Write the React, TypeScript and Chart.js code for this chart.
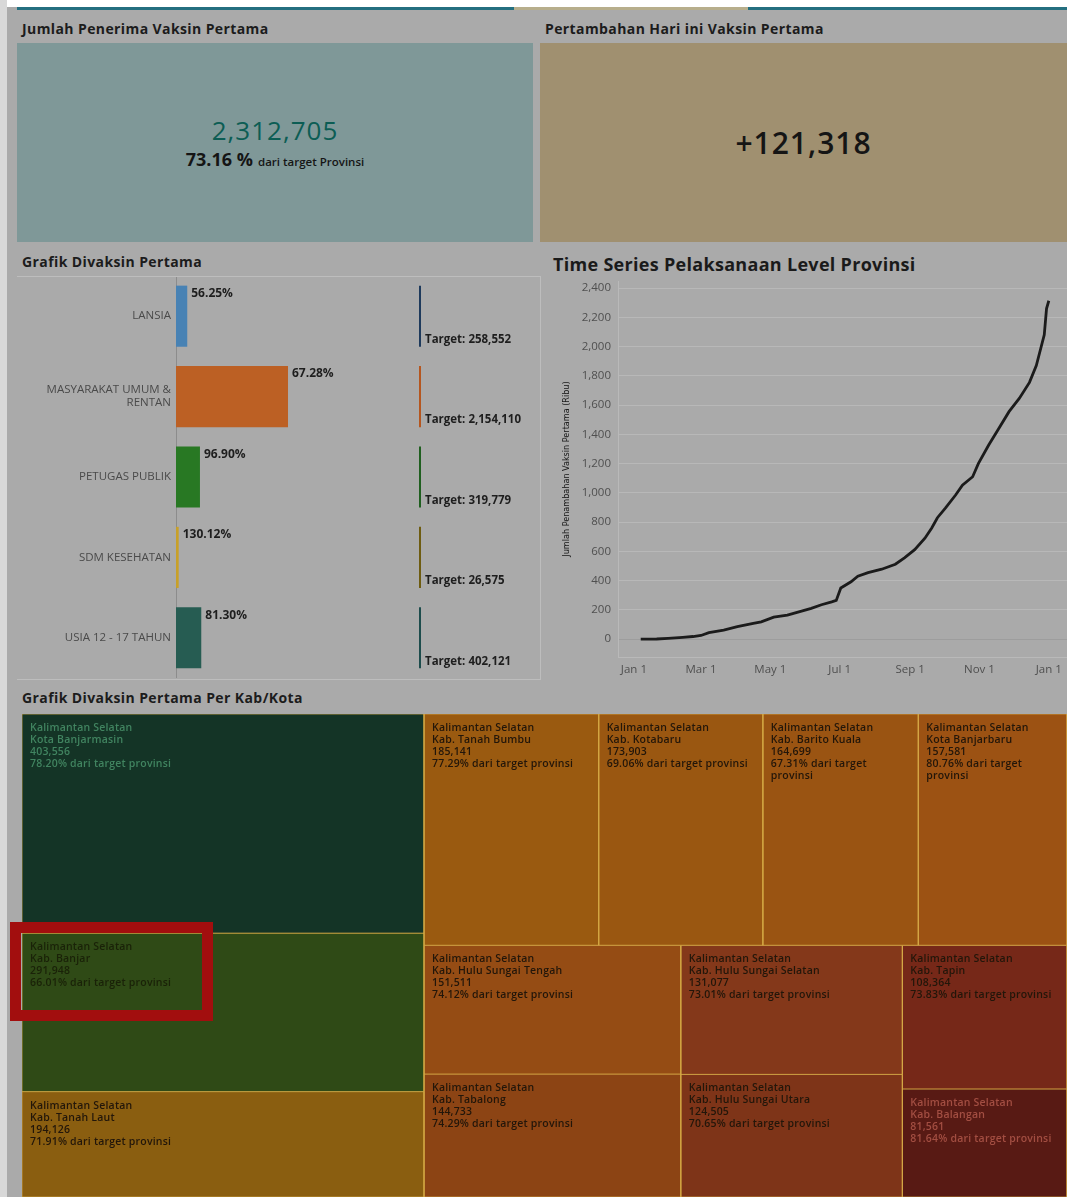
import React, { useEffect, useRef } from 'react';
import { Chart, registerables } from 'chart.js';

Chart.register(...registerables);

const FONT = '"Open Sans", "Noto Sans", sans-serif';
const NARROW = '"Liberation Sans Narrow", "DejaVu Sans Condensed", sans-serif';

// ---------- KPI ----------
const kpiTotalTitle = 'Jumlah Penerima Vaksin Pertama';
const kpiTotalValue = 2312705;
const kpiTotalPct = 73.16;
const kpiTodayTitle = 'Pertambahan Hari ini Vaksin Pertama';
const kpiTodayValue = 121318;

// ---------- Bar chart (Grafik Divaksin Pertama) ----------
const barTitle = 'Grafik Divaksin Pertama';
const barCategories = [['LANSIA'], ['MASYARAKAT UMUM &', 'RENTAN'], ['PETUGAS PUBLIK'], ['SDM KESEHATAN'], ['USIA 12 - 17 TAHUN']];
const barAchieved = [145436, 1449286, 309866, 34580, 326924];
const barPercents = [56.25, 67.28, 96.9, 130.12, 81.3];
const barTargets = [258552, 2154110, 319779, 26575, 402121];
const barColors = ['#4882b4', '#bc6024', '#287823', '#c8a028', '#265c52'];
const barTargetColors = ['#1e3a5c', '#b5561f', '#1f5f1f', '#6e5c10', '#1d4c4c'];

// ---------- Time series ----------
const tsTitle = 'Time Series Pelaksanaan Level Provinsi';
const tsYTitle = 'Jumlah Penambahan Vaksin Pertama (Ribu)';
const tsDays = [6, 20, 30, 43, 52, 59, 66, 79, 91, 105, 112, 123, 135, 142, 156, 165, 174, 178, 182, 191, 197, 206, 218, 230, 238, 247, 256, 262, 267, 274, 283, 289, 298, 303, 312, 321, 330, 339, 348, 354, 358, 361, 363, 365];
const tsValues = [0, 1, 5, 12, 18, 25, 45, 62, 85, 108, 118, 150, 165, 180, 210, 235, 255, 265, 350, 392, 430, 455, 478, 512, 556, 612, 690, 760, 830, 895, 985, 1052, 1110, 1200, 1325, 1440, 1555, 1645, 1755, 1870, 1990, 2080, 2260, 2313];
const tsTickDays = [0, 59, 120, 181, 243, 304, 365];
const tsTickLabels = ['Jan 1', 'Mar 1', 'May 1', 'Jul 1', 'Sep 1', 'Nov 1', 'Jan 1'];
const tsYTicks = [0, 200, 400, 600, 800, 1000, 1200, 1400, 1600, 1800, 2000, 2200, 2400];

// ---------- Treemap ----------
const tmTitle = 'Grafik Divaksin Pertama Per Kab/Kota';
const tmProvince = 'Kalimantan Selatan';
const tmRegions = ['Kota Banjarmasin', 'Kab. Banjar', 'Kab. Tanah Laut', 'Kab. Tanah Bumbu', 'Kab. Kotabaru', 'Kab. Barito Kuala', 'Kota Banjarbaru', 'Kab. Hulu Sungai Tengah', 'Kab. Tabalong', 'Kab. Hulu Sungai Selatan', 'Kab. Hulu Sungai Utara', 'Kab. Tapin', 'Kab. Balangan'];
const tmValues = [403556, 291948, 194126, 185141, 173903, 164699, 157581, 151511, 144733, 131077, 124505, 108364, 81561];
const tmPercents = [78.2, 66.01, 71.91, 77.29, 69.06, 67.31, 80.76, 74.12, 74.29, 73.01, 70.65, 73.83, 81.64];
const tmStripCounts = [3, 4, 2, 2, 2];
const tmStripDirs = ['col', 'row', 'col', 'col', 'col'];
const tmColors = ['#143426', '#2f4a16', '#8a5e10', '#9a5a10', '#9a5711', '#9a5412', '#9c5213', '#954c14', '#8c4414', '#84381a', '#7e3418', '#762818', '#581a14'];
const tmTextColors = ['#418460', '#1a2208', '#22160a', '#22160a', '#22160a', '#22160a', '#22160a', '#22160a', '#22160a', '#22160a', '#22160a', '#22160a', '#a34e42'];

const fmt = (v: number) => v.toLocaleString('en-US');

type Cell = { x: number; y: number; w: number; h: number };

function layoutTreemap(values: number[], counts: number[], dirs: string[], W: number, H: number): Cell[] {
  const cells: Cell[] = [];
  const rect = { x: 0, y: 0, w: W, h: H };
  let remaining = values.reduce((a, b) => a + b, 0);
  let idx = 0;
  counts.forEach((n, s) => {
    const items = values.slice(idx, idx + n);
    const sum = items.reduce((a, b) => a + b, 0);
    const frac = sum / remaining;
    if (dirs[s] === 'col') {
      const sw = rect.w * frac;
      let y = rect.y;
      items.forEach((v) => {
        const h = (rect.h * v) / sum;
        cells.push({ x: rect.x, y, w: sw, h });
        y += h;
      });
      rect.x += sw;
      rect.w -= sw;
    } else {
      const sh = rect.h * frac;
      let x = rect.x;
      items.forEach((v) => {
        const w = (rect.w * v) / sum;
        cells.push({ x, y: rect.y, w, h: sh });
        x += w;
      });
      rect.y += sh;
      rect.h -= sh;
    }
    remaining -= sum;
    idx += n;
  });
  return cells;
}

const noPadV = (s: any) => {
  s.paddingTop = 0;
  s.paddingBottom = 0;
};
const noPadH = (s: any) => {
  s.paddingLeft = 0;
  s.paddingRight = 0;
};

function BarPanel() {
  const ref = useRef<HTMLCanvasElement>(null);
  useEffect(() => {
    const targetFraction = 0.67;
    const labelsPlugin = {
      id: 'barLabels',
      afterDatasetsDraw(chart: any) {
        const { ctx, chartArea } = chart;
        const meta = chart.getDatasetMeta(0);
        const tx = Math.round(chartArea.left + chartArea.width * targetFraction);
        ctx.save();
        meta.data.forEach((el: any, i: number) => {
          const { x, y, height } = el.getProps(['x', 'y', 'height'], true);
          const top = y - height / 2;
          const bottom = y + height / 2;
          ctx.fillStyle = '#1e1e1e';
          ctx.textAlign = 'left';
          ctx.textBaseline = 'middle';
          ctx.font = `bold 12px ${FONT}`;
          ctx.fillText(barPercents[i].toFixed(2) + '%', x + 4, top + 8);
          ctx.strokeStyle = barTargetColors[i];
          ctx.lineWidth = 2;
          ctx.beginPath();
          ctx.moveTo(tx, top);
          ctx.lineTo(tx, bottom);
          ctx.stroke();
          ctx.font = `bold 11.5px ${FONT}`;
          ctx.fillText('Target: ' + fmt(barTargets[i]), tx + 5, bottom - 7);
        });
        ctx.restore();
      },
    };
    const chart = new Chart(ref.current as HTMLCanvasElement, {
      type: 'bar',
      data: {
        labels: barCategories,
        datasets: [
          {
            data: barAchieved,
            backgroundColor: barColors,
            barPercentage: 0.76,
            categoryPercentage: 1,
          },
        ],
      },
      options: {
        indexAxis: 'y',
        animation: false,
        responsive: false,
        layout: { padding: 0 },
        plugins: { legend: { display: false }, tooltip: { enabled: false } },
        scales: {
          x: { display: false, min: 0, max: 4710000 },
          y: {
            afterFit: (s: any) => {
              s.width = 159;
              noPadV(s);
            },
            grid: { display: false, drawTicks: false },
            border: { display: true, color: '#8c8c8c', width: 1 },
            ticks: { color: '#4a4a4a', padding: 5, font: { family: FONT, size: 11.5, lineHeight: 1.15 } },
          },
        },
      },
      plugins: [labelsPlugin],
    } as any);
    return () => chart.destroy();
  }, []);
  return <canvas ref={ref} width={523} height={402} style={{ position: 'absolute', left: 17, top: 276, width: 523, height: 402 }} />;
}

function LinePanel() {
  const ref = useRef<HTMLCanvasElement>(null);
  useEffect(() => {
    const chart = new Chart(ref.current as HTMLCanvasElement, {
      type: 'line',
      data: {
        datasets: [
          {
            data: tsDays.map((d, i) => ({ x: d, y: tsValues[i] })),
            borderColor: '#1b1b1b',
            borderWidth: 2.8,
            pointRadius: 0,
            tension: 0,
            fill: false,
          },
        ],
      },
      options: {
        animation: false,
        responsive: false,
        layout: { padding: { top: 5, left: 0, right: 0, bottom: 0 } },
        plugins: { legend: { display: false }, tooltip: { enabled: false } },
        scales: {
          x: {
            type: 'linear',
            min: -14,
            max: 381,
            afterBuildTicks: (axis: any) => {
              axis.ticks = tsTickDays.map((v) => ({ value: v }));
            },
            afterFit: (s: any) => {
              s.height = 23;
              noPadH(s);
            },
            grid: { display: false, drawTicks: false },
            border: { display: true, color: '#b9b9b9' },
            ticks: {
              padding: 6,
              color: '#4f4f4f',
              font: { family: FONT, size: 11.5 },
              maxRotation: 0,
              autoSkip: false,
              callback: (_v: any, i: number) => tsTickLabels[i],
            },
          },
          y: {
            type: 'linear',
            min: -122,
            max: 2448,
            afterBuildTicks: (axis: any) => {
              axis.ticks = tsYTicks.map((v) => ({ value: v }));
            },
            afterFit: (s: any) => {
              s.width = 78;
              noPadV(s);
            },
            grid: {
              drawTicks: false,
              color: (c: any) => (c.tick && c.tick.value === 0 ? '#9d9d9d' : '#b8b8b8'),
            },
            border: { display: true, color: '#b9b9b9' },
            ticks: {
              padding: 7,
              color: '#4f4f4f',
              font: { family: FONT, size: 11.5 },
              callback: (v: any) => fmt(Number(v)),
            },
            title: {
              display: true,
              text: tsYTitle,
              color: '#151515',
              font: { family: NARROW, size: 9 },
              padding: { top: 21, bottom: 0 },
            },
          },
        },
      },
    } as any);
    return () => chart.destroy();
  }, []);
  return <canvas ref={ref} width={527} height={404} style={{ position: 'absolute', left: 540, top: 276, width: 527, height: 404 }} />;
}

function TreemapPanel() {
  const ref = useRef<HTMLCanvasElement>(null);
  const W = 1045;
  const H = 483;
  useEffect(() => {
    const aspect = W / H;
    const cells = layoutTreemap(tmValues, tmStripCounts, tmStripDirs, aspect, 1);
    const labelPlugin = {
      id: 'tmLabels',
      afterDatasetsDraw(chart: any) {
        const { ctx } = chart;
        const xs = chart.scales.x;
        const ys = chart.scales.y;
        ctx.save();
        ctx.textAlign = 'left';
        ctx.textBaseline = 'middle';
        ctx.font = `600 10.5px ${FONT}`;
        try {
          (ctx as any).letterSpacing = '0.2px';
        } catch (e) {}
        cells.forEach((c, i) => {
          const px = xs.getPixelForValue(c.x);
          const py = ys.getPixelForValue(c.y);
          const pw = xs.getPixelForValue(c.x + c.w) - px;
          const maxW = pw - 20;
          const lines = [tmProvince, tmRegions[i], fmt(tmValues[i])];
          const words = (tmPercents[i].toFixed(2) + '% dari target provinsi').split(' ');
          let cur = '';
          words.forEach((w) => {
            const t = cur ? cur + ' ' + w : w;
            if (cur && ctx.measureText(t).width > maxW) {
              lines.push(cur);
              cur = w;
            } else cur = t;
          });
          if (cur) lines.push(cur);
          ctx.fillStyle = tmTextColors[i];
          lines.forEach((ln, k) => ctx.fillText(ln, px + 8, py + 14 + k * 12));
        });
        ctx.restore();
      },
    };
    const chart = new Chart(ref.current as HTMLCanvasElement, {
      type: 'line',
      data: {
        datasets: cells.map((c, i) => ({
          data: [
            { x: c.x, y: c.y },
            { x: c.x + c.w, y: c.y },
            { x: c.x + c.w, y: c.y + c.h },
            { x: c.x, y: c.y + c.h },
            { x: c.x, y: c.y },
          ],
          backgroundColor: tmColors[i],
          borderColor: 'rgba(214,170,70,0.75)',
          borderWidth: 1,
          pointRadius: 0,
          tension: 0,
          fill: 'shape',
        })),
      },
      options: {
        animation: false,
        responsive: false,
        layout: { padding: 0 },
        plugins: { legend: { display: false }, tooltip: { enabled: false } },
        scales: {
          x: { type: 'linear', display: false, min: 0, max: aspect },
          y: { type: 'linear', display: false, min: 0, max: 1, reverse: true },
        },
      },
      plugins: [labelPlugin],
    } as any);
    return () => chart.destroy();
  }, []);
  return <canvas ref={ref} width={W} height={H} style={{ position: 'absolute', left: 22, top: 714, width: W, height: H }} />;
}

const titleStyle: React.CSSProperties = {
  position: 'absolute',
  fontFamily: FONT,
  fontWeight: 700,
  fontSize: 14,
  letterSpacing: 0.4,
  color: '#1c1c1c',
  lineHeight: '16px',
  whiteSpace: 'nowrap',
};

export default function App() {
  return (
    <div
      style={{
        position: 'absolute',
        left: 0,
        top: 0,
        width: 1067,
        height: 1197,
        overflow: 'hidden',
        background: '#ffffff',
        fontFamily: FONT,
      }}
    >
      <div style={{ position: 'absolute', left: 0, top: 0, width: 7, height: 1197, background: '#d8d8d8' }} />
      <div style={{ position: 'absolute', left: 7, top: 7, width: 1060, height: 1190, background: '#aaaaaa' }} />
      <div style={{ position: 'absolute', left: 17, top: 7, width: 497, height: 3, background: '#246f80' }} />
      <div style={{ position: 'absolute', left: 514, top: 7, width: 234, height: 3, background: '#b7ae8c' }} />
      <div style={{ position: 'absolute', left: 748, top: 7, width: 319, height: 3, background: '#246f80' }} />

      {/* KPI 1 */}
      <div style={{ ...titleStyle, left: 22, top: 21 }}>{kpiTotalTitle}</div>
      <div
        style={{
          position: 'absolute',
          left: 17,
          top: 43,
          width: 516,
          height: 199,
          background: '#7f9898',
          display: 'flex',
          flexDirection: 'column',
          alignItems: 'center',
          justifyContent: 'center',
          paddingTop: 4,
          boxSizing: 'border-box',
        }}
      >
        <div style={{ fontSize: 26, fontWeight: 500, lineHeight: '28px', color: '#0c5d54', letterSpacing: 1 }}>{fmt(kpiTotalValue)}</div>
        <div style={{ marginTop: 4, lineHeight: '22px', whiteSpace: 'nowrap', color: '#151515' }}>
          <span style={{ fontSize: 18, fontWeight: 700 }}>{kpiTotalPct.toFixed(2)} %</span>
          <span style={{ fontSize: 11.5, fontWeight: 600, marginLeft: 5 }}>dari target Provinsi</span>
        </div>
      </div>

      {/* KPI 2 */}
      <div style={{ ...titleStyle, left: 545, top: 21 }}>{kpiTodayTitle}</div>
      <div
        style={{
          position: 'absolute',
          left: 540,
          top: 43,
          width: 527,
          height: 199,
          background: '#a09070',
          display: 'flex',
          alignItems: 'center',
          justifyContent: 'center',
        }}
      >
        <div style={{ fontSize: 30, fontWeight: 600, color: '#151515', lineHeight: '32px', letterSpacing: 1 }}>+{fmt(kpiTodayValue)}</div>
      </div>

      {/* Bar panel */}
      <div style={{ ...titleStyle, left: 22, top: 254 }}>{barTitle}</div>
      <BarPanel />
      <div
        style={{
          position: 'absolute',
          left: 17,
          top: 276,
          width: 523,
          height: 402,
          borderTop: '1px solid #bdbdbd',
          borderRight: '1px solid #bdbdbd',
          borderBottom: '1px solid #bdbdbd',
          pointerEvents: 'none',
        }}
      />

      {/* Line panel */}
      <div style={{ ...titleStyle, left: 553, top: 254, fontSize: 18, letterSpacing: 0.3, lineHeight: '20px', color: '#1a1a1a' }}>{tsTitle}</div>
      <LinePanel />

      {/* Treemap */}
      <div style={{ ...titleStyle, left: 22, top: 690 }}>{tmTitle}</div>
      <TreemapPanel />
      <div
        style={{
          position: 'absolute',
          left: 10,
          top: 922,
          width: 203,
          height: 99,
          border: '11px solid #a20e0e',
          boxSizing: 'border-box',
          pointerEvents: 'none',
        }}
      />
    </div>
  );
}
